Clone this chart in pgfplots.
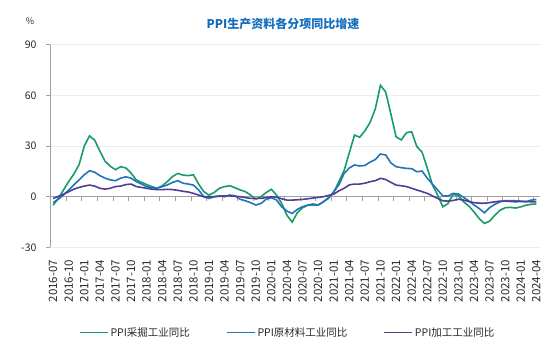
\documentclass[border=0pt]{standalone}
\usepackage{fontspec}
\setmainfont{Noto Sans CJK SC}
\usepackage{pgfplots}
\usepackage{pgfplotstable}
\pgfplotsset{compat=1.18}
\definecolor{cgreen}{RGB}{24,155,105}
\definecolor{cblue}{RGB}{30,118,185}
\definecolor{cpurple}{RGB}{80,62,150}
\definecolor{ctitle}{RGB}{20,110,190}
\definecolor{cgrid}{RGB}{236,236,236}
\definecolor{caxis}{RGB}{160,160,160}
\definecolor{ctext}{RGB}{40,40,40}

\pgfplotstableread{
i G B P
0 -5.0 -3.5 -1.0
1 -1.0 -1.5 0.2
2 4.0 1.0 1.5
3 9.0 4.0 3.0
4 13.5 7.0 4.5
5 19.0 10.0 5.5
6 30.0 13.0 6.3
7 36.0 15.4 6.9
8 33.5 14.5 6.3
9 27.0 12.5 5.0
10 21.0 11.0 4.5
11 18.0 10.0 5.0
12 16.0 9.5 6.0
13 17.8 11.0 6.3
14 17.0 11.8 7.2
15 14.0 11.0 7.5
16 10.0 9.0 6.0
17 8.5 7.5 5.5
18 7.2 6.0 5.0
19 6.0 5.3 4.5
20 5.0 5.0 4.2
21 6.5 6.0 4.2
22 9.0 7.0 4.4
23 12.0 8.5 4.2
24 13.8 9.5 3.8
25 12.8 8.0 3.2
26 12.5 7.5 2.8
27 13.0 6.9 2.0
28 7.5 4.0 1.0
29 3.0 0.0 0.0
30 1.0 -1.0 0.0
31 2.5 0.0 0.0
32 5.0 0.5 0.3
33 6.0 0.0 0.5
34 6.5 1.0 0.5
35 5.3 0.5 0.3
36 4.0 -1.5 0.0
37 3.0 -2.4 -0.5
38 1.0 -3.5 -1.0
39 -1.5 -4.9 -1.0
40 0.0 -4.0 -1.0
41 2.5 -1.5 -0.5
42 4.4 -0.6 0.0
43 1.0 -2.0 -0.3
44 -4.0 -6.0 -1.2
45 -11.0 -8.5 -2.0
46 -15.0 -9.9 -2.0
47 -9.5 -7.5 -1.8
48 -6.5 -5.9 -1.6
49 -5.0 -5.0 -1.2
50 -5.0 -4.3 -0.8
51 -5.0 -4.9 -0.4
52 -3.0 -3.0 0.0
53 -0.5 -1.0 0.8
54 2.5 3.0 1.5
55 9.0 7.0 3.5
56 15.5 13.8 5.0
57 26.0 17.0 7.0
58 36.5 18.8 7.5
59 35.2 18.2 7.5
60 39.0 18.5 8.0
61 44.0 20.5 8.9
62 52.0 22.0 9.5
63 66.0 25.3 10.9
64 62.0 24.7 10.2
65 49.0 20.0 8.5
66 35.5 17.8 6.9
67 33.6 17.2 6.5
68 37.9 16.8 6.0
69 38.5 16.6 5.0
70 29.6 14.8 4.0
71 26.5 15.2 3.0
72 17.0 11.0 2.0
73 7.0 7.5 0.5
74 1.0 4.0 -1.0
75 -6.0 0.5 -2.4
76 -4.0 0.4 -2.6
77 1.5 2.0 -2.2
78 0.5 1.6 -1.5
79 -3.0 -0.4 -2.0
80 -5.5 -2.5 -2.8
81 -9.0 -4.9 -3.5
82 -13.0 -7.0 -3.8
83 -15.8 -9.5 -3.9
84 -14.5 -6.5 -3.5
85 -11.0 -4.5 -3.0
86 -8.0 -3.0 -2.6
87 -6.5 -2.4 -2.6
88 -6.3 -2.4 -2.8
89 -6.7 -2.4 -3.0
90 -6.0 -2.6 -2.8
91 -5.0 -3.0 -2.8
92 -4.5 -2.0 -3.0
93 -4.3 -1.6 -3.0
}\datatable

\begin{document}
\begin{tikzpicture}
\useasboundingbox (0,0) rectangle (550pt,359pt);
\node[font=\bfseries\fontsize{12}{14}\selectfont, text=ctitle] at (283pt,335pt) {PPI生产资料各分项同比增速};
\node[font=\fontsize{9}{11}\selectfont, text=ctext] at (30pt,338pt) {\%};
\begin{axis}[
  at={(50pt,111.6pt)}, anchor=south west,
  scale only axis, width=490pt, height=202.7pt,
  xmin=-0.6, xmax=93.7, ymin=-30, ymax=90,
  ytick={-30,0,30,60,90},
  xtick={0,3,...,93},
  xticklabels={2016-07,2016-10,2017-01,2017-04,2017-07,2017-10,2018-01,2018-04,2018-07,2018-10,2019-01,2019-04,2019-07,2019-10,2020-01,2020-04,2020-07,2020-10,2021-01,2021-04,2021-07,2021-10,2022-01,2022-04,2022-07,2022-10,2023-01,2023-04,2023-07,2023-10,2024-01,2024-04},
  x tick style={draw=none},
  xticklabel style={rotate=90, anchor=east, font=\fontsize{11.5}{13}\selectfont, text=ctext},
  yticklabel style={font=\fontsize{10.5}{12}\selectfont, text=ctext},
  /pgf/number format/assume math mode=true,
  axis x line*=bottom, axis y line*=left,
  x axis line style={draw=none},
  y axis line style={draw=caxis, line width=0.6pt},
  y tick style={draw=caxis, line width=0.6pt},
  tick align=outside, major tick length=4pt,
  ymajorgrids, grid style={draw=cgrid, line width=0.6pt},
  xticklabel shift=5pt, yticklabel shift=6pt,
  clip=false,
  legend style={at={(0.485,-0.42)}, anchor=center, draw=none, fill=none,
    legend columns=3, font=\fontsize{10.5}{12}\selectfont, text=ctext,
    /tikz/every even column/.append style={column sep=34pt}},
  legend image code/.code={\draw[#1, line width=1.6pt] (0pt,0pt) -- (28pt,0pt);},
]
\draw[caxis, line width=0.7pt] (axis cs:-0.6,0) -- (axis cs:93.7,0);
\pgfplotsinvokeforeach{2.5,5.5,8.5,11.5,14.5,17.5,20.5,23.5,26.5,29.5,32.5,35.5,38.5,41.5,44.5,47.5,50.5,53.5,56.5,59.5,62.5,65.5,68.5,71.5,74.5,77.5,80.5,83.5,86.5,89.5,92.5}{
  \draw[caxis, line width=0.6pt] (axis cs:#1,0) -- ++(0pt,-4pt);
}
\addplot[cgreen, line width=1.6pt] table[x=i, y=G] {\datatable};
\addlegendentry{PPI采掘工业同比}
\addplot[cblue, line width=1.6pt] table[x=i, y=B] {\datatable};
\addlegendentry{PPI原材料工业同比}
\addplot[cpurple, line width=1.6pt] table[x=i, y=P] {\datatable};
\addlegendentry{PPI加工工业同比}
\end{axis}
\end{tikzpicture}
\end{document}
